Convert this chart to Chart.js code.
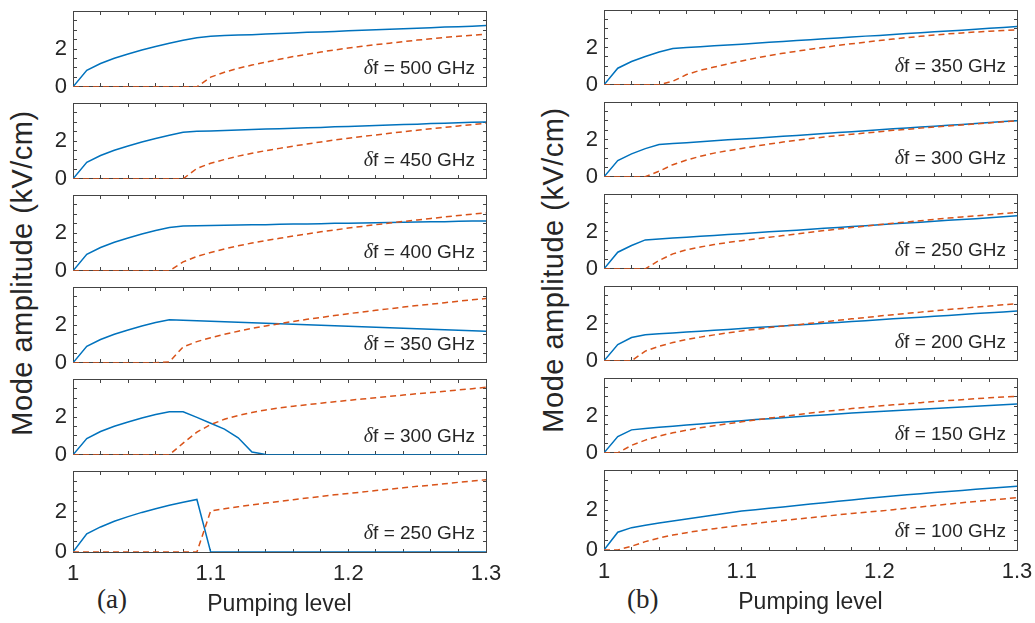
<!DOCTYPE html>
<html><head><meta charset="utf-8">
<script src="https://cdn.jsdelivr.net/npm/chart.js@4/dist/chart.umd.min.js"></script>
<style>
html,body{margin:0;padding:0;background:#fff}
body{width:1035px;height:623px;position:relative;overflow:hidden;font-family:"Liberation Sans",Arial,sans-serif;color:#262626}
.panel{position:absolute}
.lbl{position:absolute;white-space:nowrap;line-height:1}
.ytitle{font-size:29px;letter-spacing:0.5px;transform:translate(-50%,-50%) rotate(-90deg)}
.tag{font-family:"Liberation Serif","Times New Roman",serif;font-size:27px}
</style></head><body>
<div class="lbl ytitle" style="left:22px;top:273px">Mode amplitude (kV/cm)</div>
<div class="lbl ytitle" style="left:553px;top:270px">Mode amplitude (kV/cm)</div>
<div class="lbl tag" style="left:97px;top:586px">(a)</div>
<div class="lbl tag" style="left:627px;top:586px">(b)</div>
<script>
// ---------- data ----------
const pumpingLevel = [1.00,1.01,1.02,1.03,1.04,1.05,1.06,1.07,1.08,1.09,1.10,1.11,1.12,1.13,1.14,1.15,1.16,1.17,1.18,1.19,1.20,1.21,1.22,1.23,1.24,1.25,1.26,1.27,1.28,1.29,1.30];
const xTickValues = [1, 1.1, 1.2, 1.3];
const xTickLabels = ['1', '1.1', '1.2', '1.3'];
const yTickValues = [0, 2];
const yTickLabels = ['0', '2'];

// (a) column: blue solid = main mode, orange dashed = side mode
const a500Main = [0,0.87,1.23,1.51,1.74,1.95,2.13,2.30,2.46,2.60,2.68,2.71,2.74,2.76,2.79,2.82,2.85,2.88,2.90,2.93,2.96,2.99,3.02,3.04,3.07,3.10,3.13,3.16,3.18,3.21,3.24];
const a500Side = [0,0,0,0,0,0,0,0,0,0,0.51,0.77,0.98,1.15,1.30,1.46,1.60,1.72,1.84,1.95,2.05,2.14,2.23,2.31,2.39,2.47,2.54,2.61,2.67,2.73,2.79];
const a450Main = [0,0.87,1.23,1.51,1.74,1.95,2.13,2.30,2.46,2.51,2.53,2.56,2.58,2.61,2.63,2.65,2.68,2.70,2.72,2.75,2.77,2.80,2.82,2.84,2.87,2.89,2.92,2.94,2.96,2.99,3.01];
const a450Side = [0,0,0,0,0,0,0,0,0,0.55,0.82,1.02,1.20,1.35,1.49,1.61,1.73,1.84,1.95,2.05,2.14,2.24,2.32,2.41,2.49,2.57,2.65,2.72,2.80,2.87,2.94];
const a400Main = [0,0.87,1.23,1.51,1.74,1.95,2.13,2.29,2.37,2.38,2.40,2.41,2.42,2.43,2.44,2.46,2.47,2.48,2.49,2.51,2.52,2.53,2.54,2.55,2.57,2.58,2.59,2.60,2.62,2.63,2.64];
const a400Side = [0,0,0,0,0,0,0,0,0.47,0.76,0.97,1.16,1.32,1.47,1.60,1.72,1.84,1.95,2.06,2.16,2.26,2.35,2.44,2.53,2.61,2.69,2.77,2.85,2.92,3.00,3.07];
const a350Main = [0,0.87,1.23,1.51,1.74,1.95,2.13,2.28,2.25,2.23,2.20,2.17,2.15,2.12,2.09,2.07,2.04,2.01,1.99,1.96,1.93,1.91,1.88,1.85,1.83,1.80,1.77,1.75,1.72,1.70,1.67];
const a350Side = [0,0,0,0,0,0,0,0.05,0.84,1.12,1.33,1.51,1.67,1.82,1.95,2.07,2.19,2.30,2.40,2.50,2.60,2.69,2.78,2.86,2.95,3.03,3.10,3.18,3.26,3.33,3.40];
const a300Main = [0,0.86,1.23,1.51,1.74,1.95,2.13,2.28,2.28,1.98,1.67,1.36,0.90,0.15,0.02,0,0,0,0,0,0,0,0,0,0,0,0,0,0,0,0];
const a300Side = [0,0,0,0,0,0,0,0,0.62,1.20,1.60,1.88,2.08,2.24,2.37,2.48,2.57,2.65,2.73,2.81,2.88,2.95,3.02,3.09,3.16,3.23,3.29,3.36,3.43,3.50,3.57];
const a250Main = [0,0.90,1.24,1.52,1.75,1.96,2.14,2.31,2.46,2.60,0,0,0,0,0,0,0,0,0,0,0,0,0,0,0,0,0,0,0,0,0];
const a250Side = [0,0,0,0,0,0,0,0,0,0,2.03,2.14,2.24,2.33,2.42,2.51,2.59,2.67,2.75,2.83,2.90,2.97,3.04,3.11,3.18,3.25,3.31,3.38,3.45,3.51,3.58];

// (b) column
const b350Main = [0,0.89,1.25,1.52,1.76,1.95,2.00,2.04,2.09,2.14,2.18,2.23,2.28,2.32,2.37,2.42,2.47,2.51,2.56,2.61,2.65,2.70,2.75,2.79,2.84,2.89,2.93,2.98,3.03,3.07,3.12];
const b350Side = [0,0,0,0,0,0.19,0.55,0.78,0.95,1.12,1.28,1.43,1.57,1.69,1.80,1.91,2.01,2.11,2.20,2.29,2.37,2.45,2.53,2.60,2.67,2.73,2.78,2.83,2.87,2.91,2.94];
const b300Main = [0,0.87,1.23,1.51,1.73,1.78,1.83,1.88,1.93,1.98,2.03,2.07,2.12,2.17,2.22,2.27,2.32,2.37,2.42,2.47,2.52,2.57,2.62,2.67,2.71,2.76,2.81,2.86,2.91,2.96,3.01];
const b300Side = [0,0,0,0,0.30,0.65,0.90,1.10,1.27,1.40,1.52,1.64,1.76,1.86,1.96,2.05,2.13,2.21,2.28,2.35,2.42,2.49,2.55,2.61,2.67,2.73,2.78,2.84,2.89,2.95,3.00];
const b250Main = [0,0.89,1.25,1.55,1.60,1.65,1.69,1.74,1.79,1.84,1.88,1.93,1.98,2.03,2.07,2.12,2.17,2.22,2.27,2.31,2.36,2.41,2.46,2.50,2.55,2.60,2.65,2.69,2.74,2.79,2.84];
const b250Side = [0,0,0,0,0.45,0.80,1.02,1.17,1.30,1.41,1.51,1.60,1.69,1.78,1.87,1.96,2.05,2.13,2.21,2.29,2.37,2.44,2.51,2.58,2.65,2.72,2.78,2.84,2.90,2.96,3.02];
const b200Main = [0,0.87,1.25,1.40,1.45,1.49,1.54,1.59,1.64,1.68,1.73,1.78,1.82,1.87,1.92,1.96,2.01,2.06,2.11,2.15,2.20,2.25,2.29,2.34,2.39,2.43,2.48,2.53,2.58,2.62,2.67];
const b200Side = [0,0,0,0.52,0.78,0.98,1.14,1.27,1.39,1.50,1.60,1.69,1.78,1.86,1.93,2.01,2.09,2.17,2.25,2.32,2.40,2.47,2.54,2.61,2.68,2.75,2.81,2.88,2.94,3.00,3.06];
const b150Main = [0,0.87,1.23,1.30,1.37,1.43,1.49,1.55,1.61,1.67,1.72,1.78,1.83,1.88,1.93,1.98,2.03,2.08,2.13,2.17,2.21,2.26,2.30,2.34,2.38,2.42,2.46,2.50,2.54,2.57,2.61];
const b150Side = [0,0,0.40,0.68,0.90,1.07,1.21,1.34,1.45,1.56,1.66,1.76,1.86,1.95,2.04,2.13,2.21,2.29,2.37,2.44,2.51,2.57,2.63,2.69,2.75,2.80,2.85,2.90,2.95,2.99,3.03];
const b100Main = [0,0.89,1.12,1.24,1.35,1.45,1.55,1.65,1.75,1.85,1.95,2.02,2.09,2.16,2.23,2.30,2.37,2.44,2.51,2.58,2.65,2.71,2.77,2.82,2.88,2.93,2.98,3.04,3.09,3.14,3.20];
const b100Side = [0,0,0.19,0.42,0.60,0.75,0.87,0.98,1.07,1.16,1.25,1.33,1.41,1.48,1.55,1.62,1.69,1.76,1.83,1.89,1.95,2.02,2.09,2.16,2.23,2.30,2.37,2.43,2.50,2.56,2.62];

const columnALabels = ['500', '450', '400', '350', '300', '250'];
const columnBLabels = ['350', '300', '250', '200', '150', '100'];
const columnAMain = [a500Main, a450Main, a400Main, a350Main, a300Main, a250Main];
const columnASide = [a500Side, a450Side, a400Side, a350Side, a300Side, a250Side];
const columnBMain = [b350Main, b300Main, b250Main, b200Main, b150Main, b100Main];
const columnBSide = [b350Side, b300Side, b250Side, b200Side, b150Side, b100Side];

// ---------- layout / style ----------
const SANS = '"Liberation Sans", Arial, sans-serif';
const SERIF = '"Liberation Serif", "Times New Roman", serif';
const TEXT = '#262626';
const AXIS = '#444444';
const BLUE = '#0072BD';
const ORANGE = '#D95319';
const columns = [
  {plotLeft: 73, firstBottom: 92, plotHeight: 86, labels: columnALabels, main: columnAMain, side: columnASide},
  {plotLeft: 604, firstBottom: 90, plotHeight: 85, labels: columnBLabels, main: columnBMain, side: columnBSide}
];
const plotWidth = 413, rowPitch = 92;
const xMinorStep = 0.02, yMinorStep = 0.5, tickLen = 4;

// inward minor/major tick marks on all four sides (frame itself is drawn by the axes' borders)
const framePlugin = {
  id: 'frameTicks',
  beforeDatasetsDraw(chart) {
    const {ctx, chartArea: a, scales: {x, y}} = chart;
    const L = Math.floor(a.left), R = Math.floor(a.right);
    const T = Math.floor(a.top), B = Math.floor(a.bottom);
    ctx.save();
    ctx.fillStyle = AXIS;
    const nx = Math.round((x.max - x.min) / xMinorStep);
    for (let i = 0; i <= nx; i++) {
      const px = Math.floor(x.getPixelForValue(x.min + i * xMinorStep));
      ctx.fillRect(px, B - tickLen + 1, 1, tickLen);
      ctx.fillRect(px, T, 1, tickLen);
    }
    const ny = Math.round((y.max - y.min) / yMinorStep);
    for (let i = 0; i <= ny; i++) {
      const py = Math.floor(y.getPixelForValue(y.min + i * yMinorStep));
      ctx.fillRect(L, py, tickLen, 1);
      ctx.fillRect(R - tickLen + 1, py, tickLen, 1);
    }
    ctx.restore();
  },
  afterDatasetsDraw(chart, args, opts) {
    const {ctx, chartArea: a} = chart;
    ctx.save();
    ctx.fillStyle = TEXT;
    ctx.textBaseline = 'alphabetic';
    ctx.textAlign = 'left';
    const rest = 'f = ' + opts.freq + ' GHz';
    ctx.font = '19px ' + SANS;
    const wRest = ctx.measureText(rest).width;
    ctx.font = 'italic 20px ' + SERIF;
    const wDelta = ctx.measureText('\u03B4').width;
    const xEnd = a.right - 11, yBase = a.bottom - 13;
    ctx.fillText('\u03B4', xEnd - wRest - wDelta, yBase);
    ctx.font = '19px ' + SANS;
    ctx.fillText(rest, xEnd - wRest, yBase);
    ctx.restore();
  }
};

columns.forEach((col) => {
  col.labels.forEach((freq, row) => {
    const bottom = col.firstBottom + rowPitch * row;
    const top = bottom - col.plotHeight;
    const isBottom = row === col.labels.length - 1;
    const padTop = 14, yW = 45, padR = 25;
    const xH = isBottom ? 66 : 0;
    const padB = isBottom ? 0 : 14;
    const div = document.createElement('div');
    div.className = 'panel';
    div.style.left = (col.plotLeft - yW) + 'px';
    div.style.top = (top - padTop) + 'px';
    div.style.width = (plotWidth + yW + padR) + 'px';
    div.style.height = (col.plotHeight + padTop + xH + padB) + 'px';
    const cv = document.createElement('canvas');
    div.appendChild(cv);
    document.body.appendChild(div);
    const toPts = arr => arr.map((v, i) => ({x: pumpingLevel[i], y: v}));
    const edgeAxis = (pos) => ({
      type: 'linear', position: pos, display: true,
      min: pos === 'top' ? 1 : 0, max: pos === 'top' ? 1.3 : 4,
      ticks: {display: false}, grid: {display: false, drawTicks: false},
      border: {display: true, color: AXIS, width: 1},
      afterFit: s => { if (pos === 'top') s.height = 0; else s.width = 0; }
    });
    new Chart(cv, {
      type: 'line',
      data: {
        datasets: [
          {data: toPts(col.side[row]), borderColor: ORANGE, borderDash: [6, 4], borderWidth: 1.5, pointRadius: 0, tension: 0, order: 0},
          {data: toPts(col.main[row]), borderColor: BLUE, borderWidth: 1.5, pointRadius: 0, tension: 0, order: 1}
        ]
      },
      options: {
        animation: false,
        responsive: true,
        maintainAspectRatio: false,
        devicePixelRatio: 1,
        events: [],
        layout: {padding: {left: 0, top: padTop, right: padR, bottom: padB}},
        plugins: {legend: {display: false}, tooltip: {enabled: false}, frameTicks: {freq: freq}},
        scales: {
          x: {
            type: 'linear', min: 1, max: 1.3,
            afterBuildTicks: s => { s.ticks = xTickValues.map(v => ({value: v})); },
            afterFit: s => { s.height = xH; },
            grid: {display: false, drawTicks: false},
            border: {display: true, color: AXIS, width: 1},
            ticks: {display: isBottom, autoSkip: false, maxRotation: 0, padding: 9, color: TEXT,
                    font: {family: SANS, size: 22}, callback: (v, i) => xTickLabels[i]},
            title: {display: isBottom, text: 'Pumping level', color: TEXT,
                    font: {family: SANS, size: 23}, padding: {top: 0, bottom: 0}}
          },
          y: {
            min: 0, max: 4,
            afterBuildTicks: s => { s.ticks = yTickValues.map(v => ({value: v})); },
            afterFit: s => { s.width = yW; },
            grid: {display: false, drawTicks: false},
            border: {display: true, color: AXIS, width: 1},
            ticks: {padding: 6, color: TEXT, font: {family: SANS, size: 22},
                    callback: (v, i) => yTickLabels[i]}
          },
          xTop: edgeAxis('top'),
          yRight: edgeAxis('right')
        }
      },
      plugins: [framePlugin]
    });
  });
});
</script>
</body></html>
